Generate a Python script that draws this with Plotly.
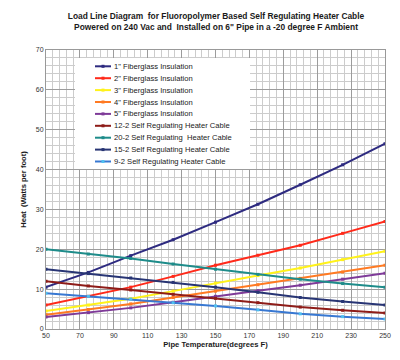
import plotly.graph_objects as go

temps = [50, 75, 100, 125, 150, 175, 200, 225, 250]

names = [
    '1" Fiberglass Insulation',
    '2" Fiberglass Insulation',
    '3" Fiberglass Insulation',
    '4" Fiberglass Insulation',
    '5" Fiberglass Insulation',
    '12-2 Self Regulating Heater Cable',
    '20-2 Self Regulating  Heater Cable',
    '15-2 Self Regulating Heater Cable',
    '9-2 Self Regulating Heater Cable',
]

fg1 = [10.5, 14.2, 18.4, 22.4, 26.8, 31.3, 36.2, 41.2, 46.5]
fg2 = [6.0, 8.2, 10.5, 13.2, 16.0, 18.5, 21.0, 24.0, 27.0]
fg3 = [4.5, 6.0, 7.6, 9.5, 11.5, 13.4, 15.3, 17.4, 19.5]
fg4 = [3.6, 4.9, 6.3, 7.9, 9.5, 11.1, 12.7, 14.3, 16.0]
fg5 = [3.0, 4.1, 5.3, 6.7, 8.2, 9.6, 11.0, 12.5, 14.0]
c12 = [12.0, 10.8, 9.8, 8.7, 7.7, 6.6, 5.5, 4.7, 4.0]
c20 = [20.0, 18.8, 17.7, 16.3, 15.0, 13.7, 12.5, 11.4, 10.5]
c15 = [15.0, 13.9, 12.8, 11.7, 10.5, 9.2, 7.9, 6.9, 6.0]
c9 = [9.0, 8.2, 7.5, 6.6, 5.8, 4.8, 3.8, 3.1, 2.5]

series = [fg1, fg2, fg3, fg4, fg5, c12, c20, c15, c9]
colors = ["#2E2B80", "#FF2A1A", "#FFF21A", "#FF7A22", "#7E3A98",
          "#8E1C18", "#1E8C8A", "#283574", "#3878D2"]
mcolors = ["#2E2B80", "#FF2A1A", "#FFF21A", "#FF7A22", "#7E3A98",
           "#8E1C18", "#1E8C8A", "#283574", "#4FC0F0"]

W, H = 400, 360
L, R, T, B = 38, 23, 42, 39
PW, PH = W - L - R, H - T - B

def px(x):
    return (x - L) / PW

def py(y):
    return (H - B - y) / PH

FONT = "Liberation Sans, Arial, sans-serif"

fig = go.Figure()
for name, ys, c, mc in zip(names, series, colors, mcolors):
    fig.add_trace(go.Scatter(
        x=temps, y=ys, name=name, mode="lines+markers",
        line=dict(color=c, width=2),
        marker=dict(color=mc, size=3, symbol="square"),
        showlegend=False,
    ))

shapes = []
annotations = []
# legend box
shapes.append(dict(type="rect", xref="paper", yref="paper",
                   x0=px(67), x1=px(242), y0=py(161), y1=py(50),
                   fillcolor="white", line=dict(width=0), layer="above"))
for i, (name, c, mc) in enumerate(zip(names, colors, mcolors)):
    yy = 58.3 + 11.9 * i
    shapes.append(dict(type="line", xref="paper", yref="paper",
                       x0=px(87), x1=px(103), y0=py(yy), y1=py(yy),
                       line=dict(color=c, width=2), layer="above"))
    shapes.append(dict(type="rect", xref="paper", yref="paper",
                       x0=px(93.5), x1=px(96.5), y0=py(yy + 1.5), y1=py(yy - 1.5),
                       fillcolor=mc, line=dict(width=0), layer="above"))
    annotations.append(dict(xref="paper", yref="paper", x=px(104), y=py(yy),
                            text=name, showarrow=False, xanchor="left",
                            yanchor="middle",
                            font=dict(family=FONT, size=7.6, color="#1A1A1A")))

fig.update_layout(
    width=W, height=H,
    margin=dict(l=L, r=R, t=T, b=B),
    paper_bgcolor="white", plot_bgcolor="white",
    title=dict(
        text="<b>Load Line Diagram  for Fluoropolymer Based Self Regulating Heater Cable</b><br>"
             "<b>Powered on 240 Vac and  Installed on 6\" Pipe in a -20 degree F Ambient</b>",
        x=0.52, xanchor="center", y=1 - 11 / H, yanchor="top",
        font=dict(family=FONT, size=8.4, color="#1A1A1A"),
    ),
    shapes=shapes,
    annotations=annotations,
    font=dict(family=FONT, color="#333"),
)
fig.update_xaxes(
    range=[50, 250], tick0=50, dtick=20, showgrid=True, gridcolor="#9C9C9C",
    gridwidth=1, zeroline=False, showline=True, linecolor="#999", mirror=True,
    minor=dict(tick0=50, dtick=4, showgrid=True, gridcolor="#CCCCCC", gridwidth=1),
    tickfont=dict(size=7, color="#333"), ticks="", ticklen=0,
    title=dict(text="<b>Pipe Temperature(degrees F)</b>", standoff=3,
               font=dict(size=7.6, color="#1A1A1A")),
)
fig.update_yaxes(
    range=[0, 70], tick0=0, dtick=10, showgrid=True, gridcolor="#9C9C9C",
    gridwidth=1, zeroline=False, showline=True, linecolor="#999", mirror=True,
    minor=dict(tick0=0, dtick=2, showgrid=True, gridcolor="#CCCCCC", gridwidth=1),
    tickfont=dict(size=7, color="#333"), ticks="",
    title=dict(text="<b>Heat  (Watts per foot)</b>", standoff=8,
               font=dict(size=7.6, color="#1A1A1A")),
)

fig.write_html("out.html")
